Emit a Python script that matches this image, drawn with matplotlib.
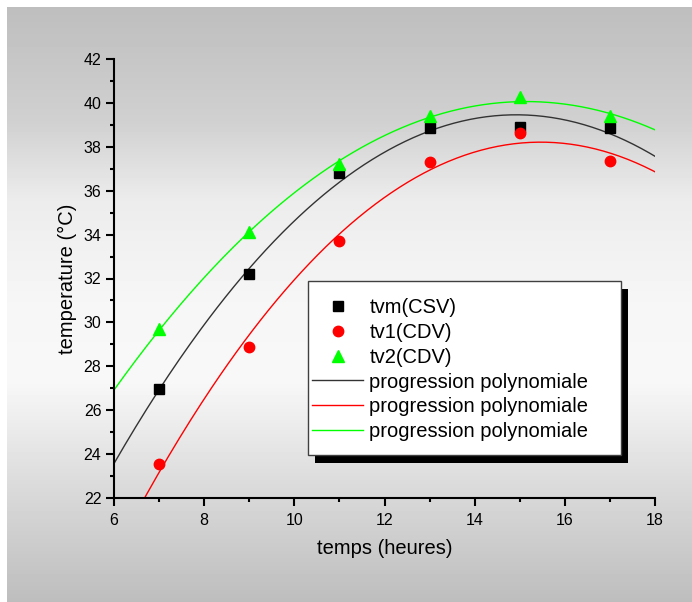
import numpy as np
import matplotlib
matplotlib.use('Agg')
import matplotlib.pyplot as plt
from matplotlib.patches import Rectangle
from matplotlib.ticker import MultipleLocator
from matplotlib import rcParams

rcParams['font.family'] = ['Liberation Sans', 'DejaVu Sans']

# data
hours = [7, 9, 11, 13, 15, 17]
tvm_csv = [26.95, 32.2, 36.8, 38.85, 38.9, 38.85]
tv1_cdv = [23.55, 28.9, 33.7, 37.3, 38.65, 37.35]
tv2_cdv = [29.7, 34.1, 37.2, 39.4, 40.25, 39.4]

W, H = 692, 602
fig = plt.figure(figsize=(W/100, H/100), dpi=100, facecolor='white')

def fx(p):
    return p / W

def fy(p):
    return 1 - p / H

# gray gradient backdrop (Origin style page)
bg = fig.add_axes([fx(7), 0, fx(W - 7), fy(7)])
rows = np.arange(7, H)
shade = np.interp(rows, [7, 120, 200, 300, 380, 480, 602],
                  [190, 208, 236, 246, 248, 220, 189])
bg.imshow(shade[:, None], cmap='gray', vmin=0, vmax=255, aspect='auto',
          extent=[0, 1, 0, 1])
bg.axis('off')

ax_l, ax_r, ax_t, ax_b = 114, 655, 59, 498
ax = fig.add_axes([fx(ax_l), fy(ax_b), fx(ax_r - ax_l), (ax_b - ax_t) / H])
ax.set_facecolor('none')

ax.plot(hours, tvm_csv, 's', color='black', ms=6.5, label='tvm(CSV)', zorder=3)
ax.plot(hours, tv1_cdv, 'o', color='red', ms=7.5, label='tv1(CDV)', zorder=3)
ax.plot(hours, tv2_cdv, '^', color='#00ff00', ms=8.5, label='tv2(CDV)', zorder=3)

xs = np.linspace(6, 18, 200)
for ys, c in [(tvm_csv, '#333333'), (tv1_cdv, 'red'), (tv2_cdv, '#00ff00')]:
    coef = np.polyfit(hours, ys, 2)
    ax.plot(xs, np.polyval(coef, xs), color=c, lw=1.0,
            label='progression polynomiale', zorder=2)

ax.set_xlim(6, 18)
ax.set_ylim(22, 42)
ax.xaxis.set_major_locator(MultipleLocator(2))
ax.xaxis.set_minor_locator(MultipleLocator(1))
ax.yaxis.set_major_locator(MultipleLocator(2))
ax.yaxis.set_minor_locator(MultipleLocator(1))
for s in ['top', 'right']:
    ax.spines[s].set_visible(False)
for s in ['left', 'bottom']:
    ax.spines[s].set_linewidth(1.5)
ax.tick_params(which='major', direction='out', length=6, width=1.5, labelsize=11.5)
ax.tick_params(which='minor', direction='out', length=3, width=1.5)
ax.tick_params(axis='x', which='major', pad=5)
ax.tick_params(axis='y', which='major', pad=3)

ax.set_xlabel('temps (heures)', fontsize=14.5, labelpad=8)
ax.set_ylabel('temperature (\u00b0C)', fontsize=14.5, labelpad=5)

# legend box with hard black shadow
def to_ax(px, py):
    return (px - ax_l) / (ax_r - ax_l), (ax_b - py) / (ax_b - ax_t)

bx0, by0 = to_ax(308, 455)
bx1, by1 = to_ax(621, 281)
sx, sy = to_ax(308 + 7, 455 + 8)
ax.add_patch(Rectangle((sx, sy), bx1 - bx0, by1 - by0, transform=ax.transAxes,
                       facecolor='black', edgecolor='none', clip_on=False, zorder=4))
ax.add_patch(Rectangle((bx0, by0), bx1 - bx0, by1 - by0, transform=ax.transAxes,
                       facecolor='white', edgecolor='#404040', lw=1.0,
                       clip_on=False, zorder=4.1))

lx, ly = to_ax(312, 298)
leg = ax.legend(loc='upper left', bbox_to_anchor=(lx, ly), frameon=False,
                fontsize=14.5, borderpad=0, borderaxespad=0, handlelength=2.55,
                handletextpad=0.3, labelspacing=0.29, numpoints=1)
leg.set_zorder(5)

fig.savefig('out.png', dpi=100)
